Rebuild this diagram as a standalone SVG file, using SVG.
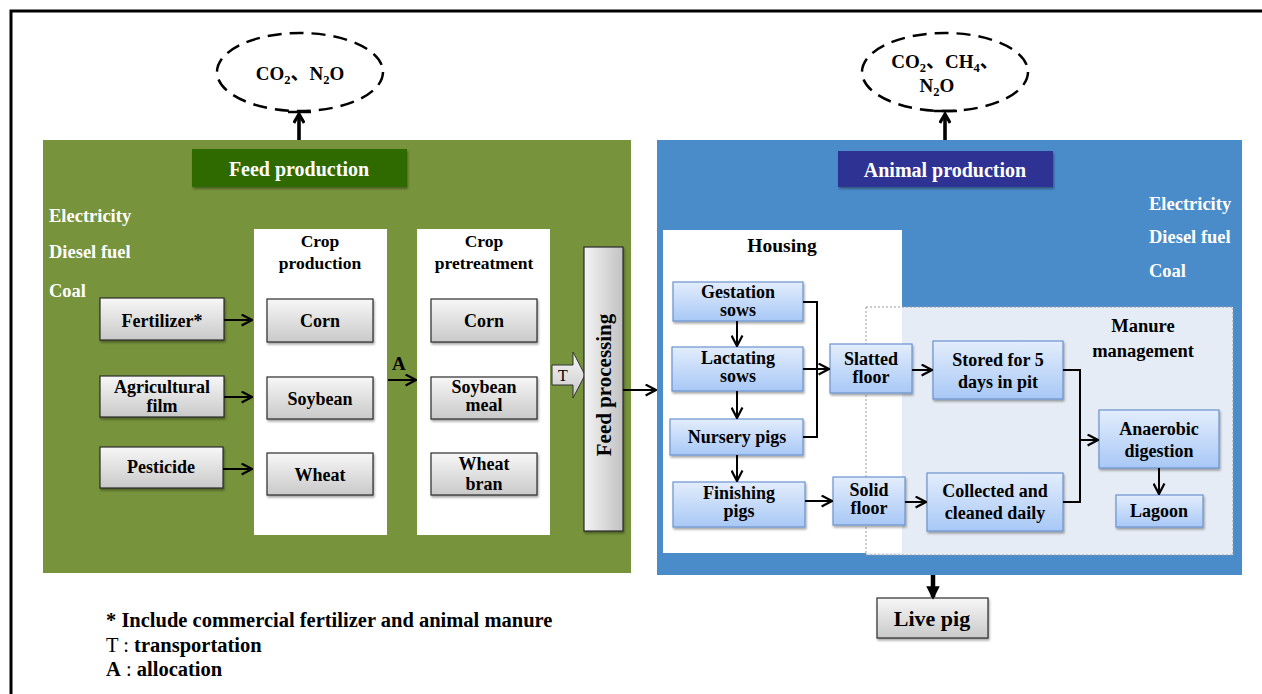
<svg xmlns="http://www.w3.org/2000/svg" width="1262" height="694" viewBox="0 0 1262 694">
<defs>
<linearGradient id="gray" x1="0" y1="0" x2="0" y2="1"><stop offset="0" stop-color="#F7F7F7"/><stop offset="1" stop-color="#C9C9C9"/></linearGradient>
<linearGradient id="grayH" x1="0" y1="0" x2="1" y2="0"><stop offset="0" stop-color="#F4F4F4"/><stop offset="1" stop-color="#C2C2C2"/></linearGradient>
<linearGradient id="blue" x1="0" y1="0" x2="0" y2="1"><stop offset="0" stop-color="#E3EDFC"/><stop offset="1" stop-color="#A8C8F6"/></linearGradient>
<filter id="sh" x="-10%" y="-10%" width="125%" height="135%"><feDropShadow dx="1" dy="2" stdDeviation="1.2" flood-color="#000" flood-opacity="0.35"/></filter>
<marker id="ah" viewBox="0 0 10 10" refX="9" refY="5" markerWidth="6.5" markerHeight="6.5" orient="auto" markerUnits="strokeWidth"><path d="M1,0.8 L9,5 L1,9.2" fill="none" stroke="#000" stroke-width="1.7"/></marker>
<marker id="ahs" viewBox="0 0 10 10" refX="8.5" refY="5" markerWidth="3.6" markerHeight="3.6" orient="auto" markerUnits="strokeWidth"><path d="M1.5,1 L8.5,5 L1.5,9" fill="none" stroke="#000" stroke-width="2.4"/></marker>
<marker id="af" viewBox="0 0 10 10" refX="8" refY="5" markerWidth="3" markerHeight="3" orient="auto" markerUnits="strokeWidth"><path d="M0,0 L10,5 L0,10 Z" fill="#000"/></marker>
<style>
text{font-family:"Liberation Serif","Times New Roman","Noto Sans CJK SC",serif;font-weight:bold;}
.t{font-size:18px;fill:#000;text-anchor:middle;}
.tb{font-size:18px;fill:#000;text-anchor:middle;}
.ti{font-size:17.5px;fill:#000;text-anchor:middle;}
.w{font-size:18.5px;fill:#fff;}
.h{font-size:20px;fill:#fff;text-anchor:middle;}
.gb{fill:url(#gray);stroke:#2b2b2b;stroke-width:1.2;filter:url(#sh);}
.bb{fill:url(#blue);stroke:#6B93CF;stroke-width:1.2;filter:url(#sh);}
.c{fill:none;stroke:#000;stroke-width:2;}
.ell{fill:none;stroke:#000;stroke-width:2.5;stroke-dasharray:14 8;}
.em{font-size:19px;fill:#000;text-anchor:middle;}
.sub{font-size:12.5px;}
.lg{font-size:20.5px;fill:#000;}
</style>
</defs>
<rect width="1262" height="694" fill="#fff"/>
<path d="M11,694 L11,11 L1262,11" fill="none" stroke="#000" stroke-width="3"/>

<!-- emissions -->
<g id="emis1">
<ellipse class="ell" cx="300" cy="72" rx="83" ry="39"/>
<text class="em" x="300" y="80">CO<tspan class="sub" dy="4">2</tspan><tspan dy="-4">、N</tspan><tspan class="sub" dy="4">2</tspan><tspan dy="-4">O</tspan></text>
</g>
<g id="emis2">
<ellipse class="ell" cx="945" cy="72" rx="83" ry="39"/>
<text class="em" x="945" y="68">CO<tspan class="sub" dy="4">2</tspan><tspan dy="-4">、CH</tspan><tspan class="sub" dy="4">4</tspan><tspan dy="-4">、</tspan></text>
<text class="em" x="937" y="92">N<tspan class="sub" dy="4">2</tspan><tspan dy="-4">O</tspan></text>
</g>

<!-- feed production panel -->
<g id="feed-panel">
<rect x="43" y="140" width="588" height="433" fill="#77933C"/>
<rect x="192" y="149" width="215" height="38" fill="#2F6A06" filter="url(#sh)"/>
<text class="h" x="299" y="176">Feed production</text>
<text class="w" x="49" y="222">Electricity</text>
<text class="w" x="49" y="258">Diesel fuel</text>
<text class="w" x="49" y="297">Coal</text>
</g>
<g id="crop-production">
<rect x="254" y="229" width="133" height="306" fill="#fff"/>
<text class="ti" x="320" y="247">Crop</text>
<text class="ti" x="320" y="269">production</text>
</g>
<g id="crop-pretreatment">
<rect x="417" y="229" width="133" height="306" fill="#fff"/>
<text class="ti" x="484" y="247">Crop</text>
<text class="ti" x="484" y="269">pretreatment</text>
</g>
<g id="fertilizer"><rect class="gb" x="100" y="298" width="124" height="42"/><text class="t" x="162" y="327">Fertilizer*</text></g>
<g id="agfilm"><rect class="gb" x="100" y="376" width="124" height="41"/><text class="t" x="162" y="393">Agricultural</text><text class="t" x="162" y="412">film</text></g>
<g id="pesticide"><rect class="gb" x="100" y="447" width="123" height="41"/><text class="t" x="161" y="473">Pesticide</text></g>
<g id="corn1"><rect class="gb" x="267" y="299" width="106" height="43"/><text class="t" x="320" y="327">Corn</text></g>
<g id="soy1"><rect class="gb" x="267" y="377" width="106" height="42"/><text class="t" x="320" y="405">Soybean</text></g>
<g id="wheat1"><rect class="gb" x="267" y="453" width="106" height="42"/><text class="t" x="320" y="481">Wheat</text></g>
<g id="corn2"><rect class="gb" x="431" y="299" width="106" height="43"/><text class="t" x="484" y="327">Corn</text></g>
<g id="soy2"><rect class="gb" x="431" y="377" width="106" height="42"/><text class="t" x="484" y="393">Soybean</text><text class="t" x="484" y="411">meal</text></g>
<g id="wheat2"><rect class="gb" x="431" y="453" width="106" height="42"/><text class="t" x="484" y="470">Wheat</text><text class="t" x="484" y="490">bran</text></g>
<g id="transport">
<path d="M552,365 L573,365 L573,352 L585,375 L573,398 L573,385 L552,385 Z" fill="url(#gray)" stroke="#333" stroke-width="1"/>
<text x="563" y="381" style="font-size:16px;font-weight:normal;text-anchor:middle">T</text>
</g>
<g id="feed-processing">
<rect x="584" y="247" width="39" height="284" fill="url(#grayH)" stroke="#2b2b2b" stroke-width="1.2" filter="url(#sh)"/>
<text class="t" style="font-size:21px" transform="translate(611,385) rotate(-90)">Feed processing</text>
</g>

<!-- animal production panel -->
<g id="animal-panel">
<rect x="657" y="140" width="585" height="435" fill="#4A8BC9"/>
<rect x="838" y="151" width="215" height="36" fill="#2E3192" filter="url(#sh)"/>
<text class="h" x="945" y="177">Animal production</text>
<text class="w" x="1149" y="210">Electricity</text>
<text class="w" x="1149" y="243">Diesel fuel</text>
<text class="w" x="1149" y="277">Coal</text>
</g>
<g id="manure-mgmt">
<rect x="866" y="307" width="367" height="248" fill="#E6ECF5"/>
</g>
<g id="housing">
<rect x="663" y="230" width="239" height="323" fill="#fff"/>
<text class="tb" style="font-size:19.5px" x="782" y="252">Housing</text>
</g>
<g id="manure-border">
<rect x="866" y="307" width="367" height="248" fill="none" stroke="#9A9A9A" stroke-width="1" stroke-dasharray="2 2"/>
<text class="tb" style="font-size:18.5px" x="1143" y="332">Manure</text>
<text class="tb" style="font-size:18.5px" x="1143" y="357">management</text>
</g>
<g id="gestation"><rect class="bb" x="673" y="282" width="130" height="39"/><text class="tb" x="738" y="298">Gestation</text><text class="tb" x="738" y="316">sows</text></g>
<g id="lactating"><rect class="bb" x="672" y="347" width="131" height="44"/><text class="tb" x="738" y="364">Lactating</text><text class="tb" x="738" y="382">sows</text></g>
<g id="nursery"><rect class="bb" x="670" y="419" width="133" height="36"/><text class="tb" x="737" y="443">Nursery pigs</text></g>
<g id="finishing"><rect class="bb" x="673" y="482" width="132" height="45"/><text class="tb" x="739" y="499">Finishing</text><text class="tb" x="739" y="517">pigs</text></g>
<g id="slatted"><rect class="bb" x="830" y="344" width="82" height="49"/><text class="tb" x="871" y="365">Slatted</text><text class="tb" x="871" y="383">floor</text></g>
<g id="solid"><rect class="bb" x="833" y="477" width="72" height="48"/><text class="tb" x="869" y="496">Solid</text><text class="tb" x="869" y="514">floor</text></g>
<g id="stored"><rect class="bb" x="933" y="341" width="130" height="58"/><text class="tb" x="998" y="366">Stored for 5</text><text class="tb" x="998" y="388">days in pit</text></g>
<g id="collected"><rect class="bb" x="927" y="473" width="136" height="58"/><text class="tb" x="995" y="497">Collected and</text><text class="tb" x="995" y="519">cleaned daily</text></g>
<g id="anaerobic"><rect class="bb" x="1099" y="410" width="120" height="58"/><text class="tb" x="1159" y="435">Anaerobic</text><text class="tb" x="1159" y="457">digestion</text></g>
<g id="lagoon"><rect class="bb" x="1116" y="495" width="87" height="32"/><text class="tb" x="1159" y="517">Lagoon</text></g>
<g id="livepig"><rect class="gb" x="877" y="598" width="111" height="40"/><text class="t" style="font-size:22px" x="932" y="626">Live pig</text></g>

<!-- connectors -->
<g id="connectors">
<path class="c" d="M299,140 L299,114" style="stroke-width:3.6" marker-end="url(#ahs)"/>
<path class="c" d="M945,140 L945,114" style="stroke-width:3.6" marker-end="url(#ahs)"/>
<path class="c" d="M288,112 L311,112" style="stroke-width:2.5"/>
<path class="c" d="M934,111 L957,111" style="stroke-width:2.5"/>
<path class="c" d="M224,320 L252,320" marker-end="url(#ah)"/>
<path class="c" d="M224,397 L252,397" marker-end="url(#ah)"/>
<path class="c" d="M223,469 L252,469" marker-end="url(#ah)"/>
<path class="c" d="M388,380 L416,380" marker-end="url(#ah)"/>
<text x="392" y="370" style="font-size:19px;fill:#000">A</text>
<path class="c" d="M623,390 L656,390" marker-end="url(#ah)"/>
<path class="c" d="M737,321 L737,346" marker-end="url(#ah)"/>
<path class="c" d="M737,391 L737,418" marker-end="url(#ah)"/>
<path class="c" d="M737,455 L737,481" marker-end="url(#ah)"/>
<path class="c" d="M803,302 L817,302 L817,437 L803,437"/>
<path class="c" d="M803,369 L829,369" marker-end="url(#ah)"/>
<path class="c" d="M805,501 L832,501" marker-end="url(#ah)"/>
<path class="c" d="M912,370 L932,370" marker-end="url(#ah)"/>
<path class="c" d="M905,502 L926,502" marker-end="url(#ah)"/>
<path class="c" d="M1063,370 L1080,370 L1080,502 L1063,502"/>
<path class="c" d="M1080,440 L1098,440" marker-end="url(#ah)"/>
<path class="c" d="M1159,468 L1159,494" marker-end="url(#ah)"/>
<path class="c" d="M933,575 L933,597" style="stroke-width:4.5" marker-end="url(#af)"/>
</g>

<!-- legend -->
<g id="legend">
<text class="lg" x="106" y="627">* Include commercial fertilizer and animal manure</text>
<text class="lg" x="106" y="652"><tspan style="font-weight:normal">T : </tspan>transportation</text>
<text class="lg" x="106" y="676">A<tspan style="font-weight:normal"> : </tspan>allocation</text>
</g>
</svg>
